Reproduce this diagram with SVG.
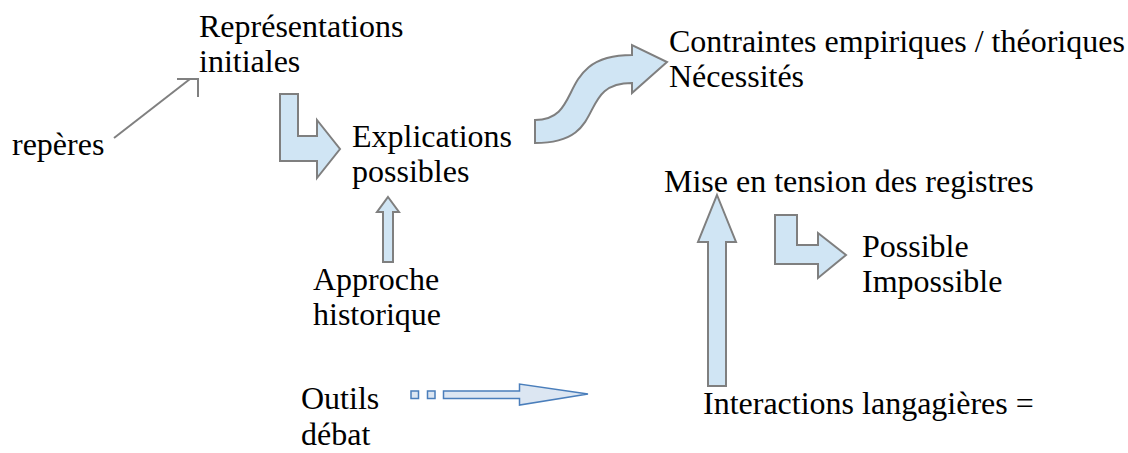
<svg xmlns="http://www.w3.org/2000/svg" width="1128" height="453" viewBox="0 0 1128 453">
<style>
.t{font-family:'Liberation Serif','Times New Roman','DejaVu Serif',serif;font-size:32px;fill:#000}
.blk{fill:#d0e5f4;stroke:#7f7f7f;stroke-width:2;stroke-linejoin:miter}
.dash{fill:#dce6f2;stroke:#4a7ebb;stroke-width:1.5}
.ln{fill:none;stroke:#808080;stroke-width:2}
</style>
<rect width="1128" height="453" fill="#fff"/>
<g id="connectors">
<g id="c-reperes">
<line class="ln" x1="114" y1="138" x2="190" y2="79"/>
<polyline class="ln" points="177,79 198,79 198,97"/>
</g>
<path id="c-bent1" class="blk" d="M280,94 H298 V136 H317 V120 L340,149 L317,178 V161 H280 Z"/>
<path id="c-s" class="blk" d="M535,120 C585,120 555,55 632,55 V45 L667,62 L632,93 V83 C575,83 610,143 535,143 Z"/>
<path id="c-up-small" class="blk" d="M388,197 L399,212 H393 V262 H383 V212 H377 Z"/>
<path id="c-up-big" class="blk" d="M717,195 L736,242 H726 V386 H708 V242 H698 Z"/>
<path id="c-bent2" class="blk" d="M775,215 H797 V245 H818 V233 L846,255 L818,278 V264 H775 Z"/>
<g id="c-dash">
<rect class="dash" x="411" y="391" width="7.5" height="7.5"/>
<rect class="dash" x="427.5" y="391" width="7.5" height="7.5"/>
<path class="dash" d="M443.5,391 H519.5 V384 L588,394 L519.5,405 V398.5 H443.5 Z"/>
</g>
</g>
<g id="n-representations"><text class="t" x="199" y="37">Représentations</text><text class="t" x="199" y="72">initiales</text></g>
<g id="n-reperes"><text class="t" x="12" y="155">repères</text></g>
<g id="n-explications"><text class="t" x="352" y="147">Explications</text><text class="t" x="352" y="182">possibles</text></g>
<g id="n-contraintes"><text class="t" x="669" y="52">Contraintes empiriques / théoriques</text><text class="t" x="669" y="87">Nécessités</text></g>
<g id="n-mise"><text class="t" x="664" y="192">Mise en tension des registres</text></g>
<g id="n-possible"><text class="t" x="862" y="257">Possible</text><text class="t" x="862" y="292">Impossible</text></g>
<g id="n-approche"><text class="t" x="313" y="290">Approche</text><text class="t" x="313" y="325">historique</text></g>
<g id="n-outils"><text class="t" x="301" y="409">Outils</text><text class="t" x="301" y="445">débat</text></g>
<g id="n-interactions"><text class="t" x="703" y="414">Interactions langagières =</text></g>
</svg>
